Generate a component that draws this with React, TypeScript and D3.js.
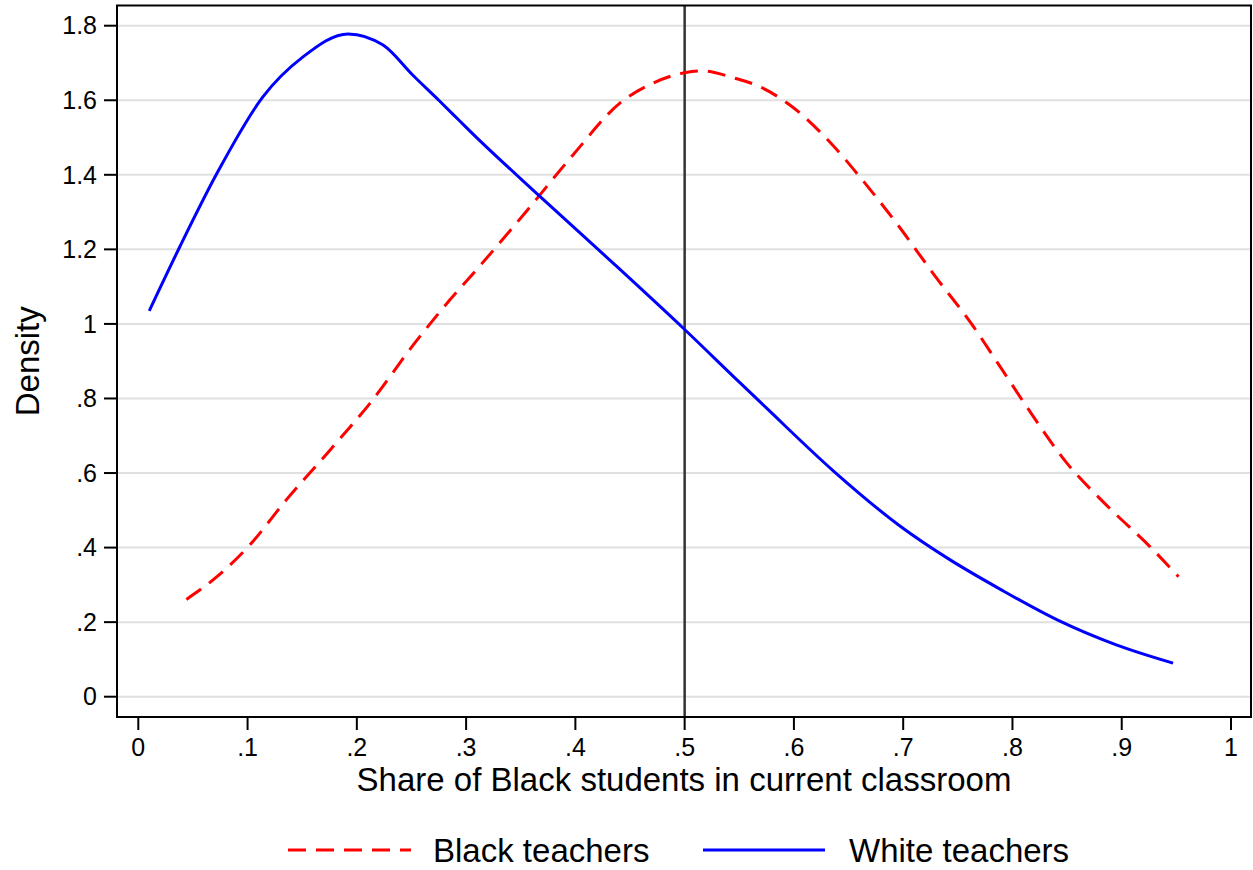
import React from "react";
import * as d3 from "d3";

const xTicks = [0, 0.1, 0.2, 0.3, 0.4, 0.5, 0.6, 0.7, 0.8, 0.9, 1];
const yTicks = [0, 0.2, 0.4, 0.6, 0.8, 1, 1.2, 1.4, 1.6, 1.8];

const whiteX = [0.01, 0.038, 0.072, 0.114, 0.151, 0.192, 0.224, 0.252, 0.275, 0.294, 0.304, 0.365, 0.429, 0.5, 0.551, 0.575, 0.636, 0.697, 0.743, 0.789, 0.841, 0.895, 0.947];
const whiteD = [1.035, 1.207, 1.404, 1.609, 1.717, 1.778, 1.748, 1.665, 1.6, 1.545, 1.516, 1.349, 1.178, 0.985, 0.841, 0.774, 0.606, 0.458, 0.367, 0.288, 0.206, 0.139, 0.09];

const blackX = [0.044, 0.072, 0.102, 0.136, 0.175, 0.212, 0.252, 0.285, 0.313, 0.356, 0.398, 0.441, 0.471, 0.5, 0.516, 0.545, 0.569, 0.596, 0.636, 0.661, 0.697, 0.728, 0.764, 0.789, 0.813, 0.85, 0.886, 0.926, 0.952];
const blackD = [0.261, 0.322, 0.407, 0.53, 0.66, 0.787, 0.945, 1.064, 1.157, 1.305, 1.454, 1.593, 1.646, 1.674, 1.679, 1.66, 1.636, 1.588, 1.478, 1.392, 1.258, 1.133, 0.994, 0.884, 0.778, 0.626, 0.514, 0.402, 0.322];

const refLine = 0.5;
const xLabel = "Share of Black students in current classroom";
const yLabel = "Density";
const legendLabels = ["Black teachers", "White teachers"];

const fmt = (v: number) => {
  const s = d3.format("~g")(+v.toFixed(2));
  return s.startsWith("0.") ? s.slice(1) : s;
};

export default function App() {
  const W = 1253, H = 870;
  const left = 117, right = 1251, top = 5.5, bottom = 717;
  const x = d3.scaleLinear().domain([0, 1]).range([138.3, 1231]);
  const y = d3.scaleLinear().domain([0, 1.8]).range([696.7, 25.7]);
  const line = d3.line<[number, number]>().x(d => x(d[0])).y(d => y(d[1])).curve(d3.curveMonotoneX);
  const whitePts = whiteX.map((v, i) => [v, whiteD[i]] as [number, number]);
  const blackPts = blackX.map((v, i) => [v, blackD[i]] as [number, number]);
  const font = "Arial, 'Liberation Sans', Helvetica, sans-serif";

  return (
    <svg width={W} height={H} style={{ position: "absolute", left: 0, top: 0, background: "#fff" }} fontFamily={font}>
      <rect x={0} y={0} width={W} height={H} fill="#fff" />
      {yTicks.map(t => (
        <line key={"g" + t} x1={left} x2={right} y1={y(t)} y2={y(t)} stroke="#e0e0e0" strokeWidth={2} />
      ))}
      <line x1={x(refLine)} x2={x(refLine)} y1={top} y2={bottom} stroke="#333" strokeWidth={2.5} />
      <path d={line(blackPts) || ""} fill="none" stroke="#ff0000" strokeWidth={3} strokeDasharray="18 10" />
      <path d={line(whitePts) || ""} fill="none" stroke="#0000ff" strokeWidth={3} />
      <rect x={left} y={top} width={right - left} height={bottom - top} fill="none" stroke="#000" strokeWidth={2} />
      {yTicks.map(t => (
        <g key={"y" + t}>
          <line x1={left - 13} x2={left} y1={y(t)} y2={y(t)} stroke="#000" strokeWidth={2} />
          <text x={97} y={y(t)} dy="0.35em" textAnchor="end" fontSize={25}>{fmt(t)}</text>
        </g>
      ))}
      {xTicks.map(t => (
        <g key={"x" + t}>
          <line x1={x(t)} x2={x(t)} y1={bottom} y2={bottom + 13} stroke="#000" strokeWidth={2} />
          <text x={x(t)} y={756} textAnchor="middle" fontSize={25}>{fmt(t)}</text>
        </g>
      ))}
      <text x={(left + right) / 2} y={791} textAnchor="middle" fontSize={33}>{xLabel}</text>
      <text transform={`translate(39, ${(top + bottom) / 2}) rotate(-90)`} textAnchor="middle" fontSize={33}>{yLabel}</text>
      <line x1={288} x2={411} y1={850} y2={850} stroke="#ff0000" strokeWidth={3} strokeDasharray="18 10" />
      <text x={433} y={862} fontSize={33}>{legendLabels[0]}</text>
      <line x1={703} x2={825} y1={850} y2={850} stroke="#0000ff" strokeWidth={3} />
      <text x={849} y={862} fontSize={33}>{legendLabels[1]}</text>
    </svg>
  );
}
